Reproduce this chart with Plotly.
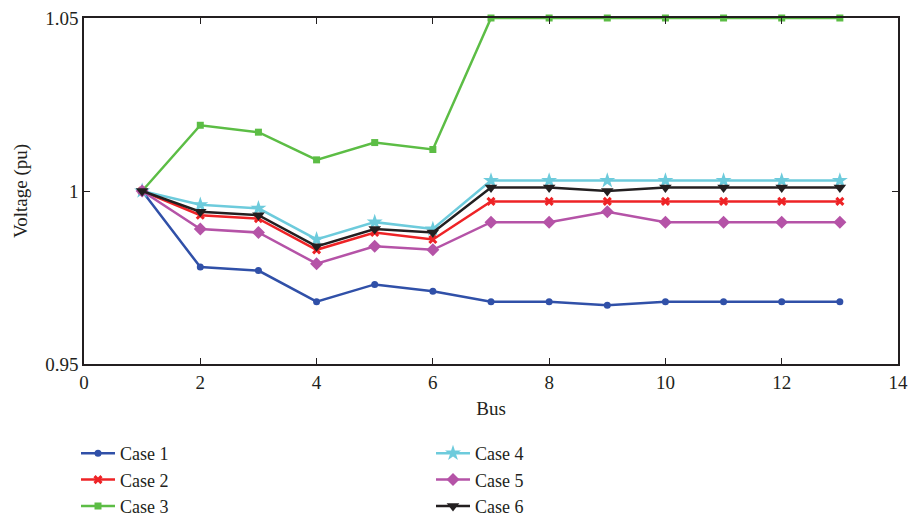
import plotly.graph_objects as go

bus = list(range(1, 14))
case1 = [1.000, 0.978, 0.977, 0.968, 0.973, 0.971, 0.968, 0.968, 0.967, 0.968, 0.968, 0.968, 0.968]
case2 = [1.000, 0.993, 0.992, 0.983, 0.988, 0.986, 0.997, 0.997, 0.997, 0.997, 0.997, 0.997, 0.997]
case3 = [1.000, 1.019, 1.017, 1.009, 1.014, 1.012, 1.050, 1.050, 1.050, 1.050, 1.050, 1.050, 1.050]
case4 = [1.000, 0.996, 0.995, 0.986, 0.991, 0.989, 1.003, 1.003, 1.003, 1.003, 1.003, 1.003, 1.003]
case5 = [1.000, 0.989, 0.988, 0.979, 0.984, 0.983, 0.991, 0.991, 0.994, 0.991, 0.991, 0.991, 0.991]
case6 = [1.000, 0.994, 0.993, 0.984, 0.989, 0.988, 1.001, 1.001, 1.000, 1.001, 1.001, 1.001, 1.001]

names = ["Case 1", "Case 2", "Case 3", "Case 4", "Case 5", "Case 6"]
series = [case1, case2, case3, case4, case5, case6]
colors = ["#3050a8", "#ee2326", "#5cbd45", "#6dcbdc", "#b553a7", "#231f20"]
symbols = ["circle", "x-thin-open", "square", "star", "diamond", "triangle-down"]
sizes = [7, 7, 7, 12, 10, 11]

FONT = "Liberation Serif"
FS = 19

fig = go.Figure()
for i, (n, y) in enumerate(zip(names, series)):
    mk = dict(symbol=symbols[i], size=sizes[i], color=colors[i])
    if symbols[i] == "x-thin-open":
        mk["line"] = dict(width=3, color=colors[i])
    fig.add_trace(go.Scatter(
        x=bus, y=y, name=n, mode="lines+markers",
        line=dict(color=colors[i], width=2.5),
        marker=mk, cliponaxis=False,
        legend="legend" if i < 3 else "legend2",
        legendgroup=n,
    ))

axis_common = dict(
    showline=True, linecolor="#231f20", linewidth=1.5, mirror="ticks",
    ticks="inside", ticklen=6, tickcolor="#231f20", showgrid=False, zeroline=False,
    tickfont=dict(family=FONT, size=FS, color="#231f20"), automargin=False,
)

# plot area: x 84..898, y 18..364
leg_common = dict(yref="container", yanchor="top", xanchor="left", y=1 - 435 / 519,
                  orientation="v", tracegroupgap=0, itemwidth=34,
                  font=dict(family=FONT, size=18, color="#231f20"), bgcolor="rgba(0,0,0,0)")

fig.update_layout(
    width=913, height=519,
    margin=dict(l=84, r=15, t=18, b=155),
    plot_bgcolor="white", paper_bgcolor="white",
    font=dict(family=FONT, size=FS, color="#231f20"),
    xaxis=dict(range=[0, 14], tickvals=[0, 2, 4, 6, 8, 10, 12, 14],
               title=dict(text="Bus", font=dict(family=FONT, size=FS), standoff=10),
               **axis_common),
    yaxis=dict(range=[0.95, 1.05], tickvals=[0.95, 1.0, 1.05], ticktext=["0.95", "1", "1.05"],
               title=dict(text="Voltage (pu)", font=dict(family=FONT, size=FS), standoff=13),
               **axis_common),
    legend=dict(x=(76 - 84) / 814, **leg_common),
    legend2=dict(x=(431 - 84) / 814, **leg_common),
)

fig.write_html("out.html", config={"displayModeBar": False},
               post_script="document.body.style.margin='0';")
